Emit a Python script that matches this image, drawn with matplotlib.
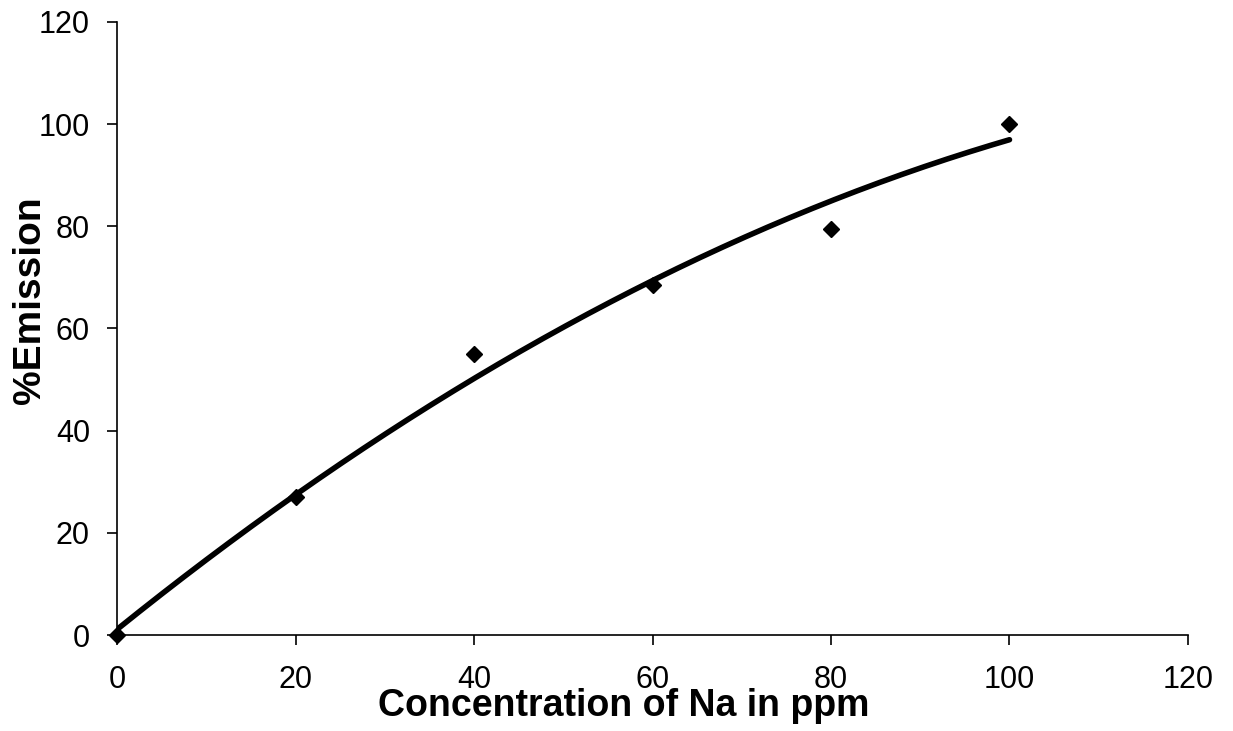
import numpy as np
from matplotlib import pyplot as plt

# Data
conc = np.array([0, 20, 40, 60, 80, 100])  # ppm
emission = np.array([0, 27, 55, 68.5, 79.5, 100])  # %

x_ticks = [0, 20, 40, 60, 80, 100, 120]
y_ticks = [0, 20, 40, 60, 80, 100, 120]

plt.rcParams['font.family'] = ['Liberation Sans', 'DejaVu Sans']

fig = plt.figure(figsize=(12.33, 7.31), dpi=100)
ax = fig.add_axes([0.0949, 0.1313, 0.8686, 0.8387])

# 2nd order polynomial trendline
coef = np.polyfit(conc, emission, 2)
xf = np.linspace(0, 100, 200)
ax.plot(xf, np.polyval(coef, xf), color='black', lw=4, solid_capstyle='round', zorder=2)
ax.plot(conc, emission, 'D', color='black', ms=8, zorder=3, clip_on=False)

ax.set_xlim(0, 120)
ax.set_ylim(0, 120)
ax.set_xticks(x_ticks)
ax.set_yticks(y_ticks)
ax.spines['top'].set_visible(False)
ax.spines['right'].set_visible(False)
ax.spines['left'].set_linewidth(1.2)
ax.spines['bottom'].set_linewidth(1.2)
ax.tick_params(direction='out', length=7.5, width=1.2, labelsize=22)
ax.tick_params(axis='x', pad=14)
ax.tick_params(axis='y', pad=12)

ax.set_xlabel('Concentration of Na in ppm', fontsize=27, fontweight='bold')
ax.xaxis.set_label_coords(0.473, -0.087)
ax.set_ylabel('%Emission', fontsize=28, fontweight='bold')
ax.yaxis.set_label_coords(-0.064, 0.5465)

fig.savefig('out.png', dpi=100)
